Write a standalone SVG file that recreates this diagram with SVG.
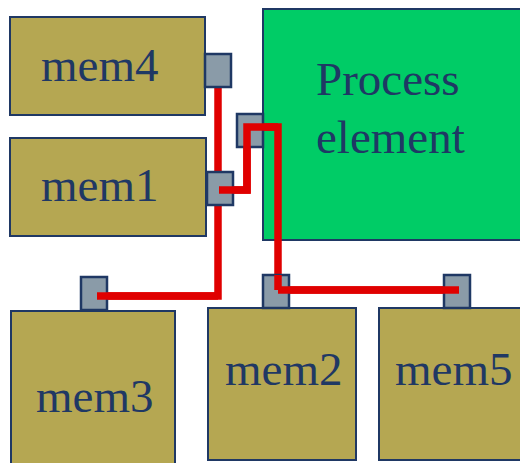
<svg xmlns="http://www.w3.org/2000/svg" width="520" height="463" viewBox="0 0 520 463">
<style>
.mem{fill:#B5A752;stroke:#1F3864;stroke-width:2}
.pe{fill:#00CC66;stroke:#1F3864;stroke-width:2}
.port{fill:#8A9BA8;stroke:#1F3864;stroke-width:2.5}
.lbl{font-family:"Liberation Serif","Times New Roman",serif;font-size:47px;fill:#1F3864}
.wire{fill:none;stroke:#E00000;stroke-width:7.5;stroke-linejoin:miter;stroke-linecap:butt}
</style>
<rect width="520" height="463" fill="#fff"/>
<g id="pe">
<rect class="pe" x="263" y="9" width="270" height="231"/>
<text class="lbl" x="316" y="95">Process</text>
<text class="lbl" x="316" y="153">element</text>
</g>
<g id="mem4">
<rect class="mem" x="10" y="17" width="195" height="98"/>
<text class="lbl" x="41" y="81">mem4</text>
</g>
<g id="mem1">
<rect class="mem" x="10" y="138" width="196" height="98"/>
<text class="lbl" x="41" y="201">mem1</text>
</g>
<g id="mem3">
<rect class="mem" x="11" y="311" width="164" height="160"/>
<text class="lbl" x="36" y="412">mem3</text>
</g>
<g id="mem2">
<rect class="mem" x="208" y="308" width="148" height="152"/>
<text class="lbl" x="225" y="385">mem2</text>
</g>
<g id="mem5">
<rect class="mem" x="379" y="308" width="160" height="152"/>
<text class="lbl" x="395" y="385">mem5</text>
</g>
<g id="connectors">
<polyline class="wire" points="218,87 218,296 97,296"/>
<polyline class="wire" points="219,190 247,190 247,127 278,127 278,308"/>
<polyline class="wire" points="278,290 459,290"/>
</g>
<g id="ports">
<rect class="port" x="205" y="54" width="26" height="33"/>
<rect class="port" x="207" y="172" width="26" height="33"/>
<rect class="port" x="237" y="114" width="26" height="33"/>
<rect class="port" x="81" y="277" width="26" height="33"/>
<rect class="port" x="263" y="275" width="26" height="33"/>
<rect class="port" x="444" y="275" width="26" height="33"/>
</g>
<g id="connectors-top">
<polyline class="wire" points="219,190 247,190 247,127 278,127"/>
<polyline class="wire" points="97,296 218,296"/>
<polyline class="wire" points="278,290 459,290"/>
<polyline class="wire" points="278,275 278,290"/>
</g>
</svg>
